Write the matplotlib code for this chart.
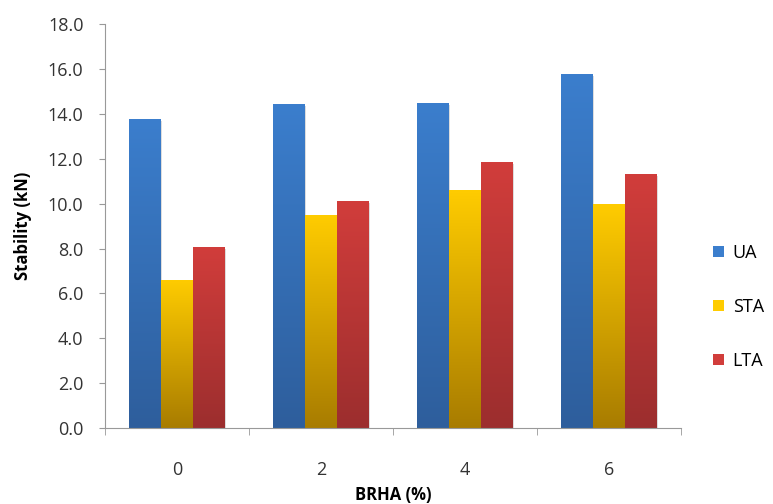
import numpy as np
import matplotlib.pyplot as plt
from matplotlib.colors import LinearSegmentedColormap
from matplotlib.patches import Rectangle

# Datos
categories = ['0', '2', '4', '6']
series_names = ['UA', 'STA', 'LTA']
ua = [13.76, 14.44, 14.5, 15.76]
sta = [6.6, 9.48, 10.6, 9.97]
lta = [8.05, 10.1, 11.85, 11.32]

# colores (arriba, abajo) para el degradado tipo Excel
colors = {
    'UA': ('#3B7ECD', '#2E5E9C'),
    'STA': ('#FFCC00', '#A87C00'),
    'LTA': ('#D13D3B', '#9C2E2E'),
}

plt.rcParams['font.family'] = ['Open Sans', 'DejaVu Sans']

fig = plt.figure(figsize=(7.73, 5.04), dpi=100)
ax = fig.add_axes([0.1358, 0.1508, 0.881 - 0.1358, 0.952 - 0.1508])

x = np.arange(len(categories))
width = 0.22
grad = np.linspace(1, 0, 256).reshape(-1, 1)

for i, (name, vals) in enumerate(zip(series_names, [ua, sta, lta])):
    top, bottom = colors[name]
    cmap = LinearSegmentedColormap.from_list(name, [bottom, top])
    bars = ax.bar(x + (i - 1) * width, vals, width, color=top, label=name,
                  edgecolor='none', zorder=2)
    for b in bars:
        bx, by = b.get_x(), b.get_y()
        bw, bh = b.get_width(), b.get_height()
        # sombra ligera a la derecha
        ax.add_patch(Rectangle((bx + 0.008, by), bw, bh - 0.08, color='#00000022',
                               zorder=1.5, linewidth=0))
        im = ax.imshow(grad, cmap=cmap, aspect='auto', zorder=2.5,
                       extent=[bx, bx + bw, by, by + bh], vmin=0, vmax=1)
        im.set_clip_path(b)

ax.set_xlim(-0.5, len(categories) - 0.5)
ax.set_ylim(0, 18)
yt = np.arange(0, 18.1, 2)
ax.set_yticks(yt)
ax.set_yticklabels(['%.1f' % v for v in yt])
ax.set_xticks(x)
ax.set_xticklabels(categories)
ax.set_xticks(np.arange(-0.5, len(categories), 1), minor=True)
ax.tick_params(axis='x', which='major', length=0, pad=24, labelsize=13, labelcolor='#333333')
ax.tick_params(axis='x', which='minor', length=5, color='#999999', direction='out')
ax.tick_params(axis='y', length=4.5, color='#999999', labelsize=13, labelcolor='#333333', pad=11)

for s in ['top', 'right']:
    ax.spines[s].set_visible(False)
ax.spines['left'].set_color('#999999')
ax.spines['bottom'].set_color('#999999')

ax.set_ylabel('Stability (kN)', fontsize=12, fontweight='bold', labelpad=11)
ax.set_xlabel('BRHA (%)', fontsize=12, fontweight='bold', labelpad=5)

handles = [Rectangle((0, 0), 1, 1, facecolor=colors[n][0], edgecolor='none') for n in series_names]
fig.legend(handles, series_names, loc='center left', bbox_to_anchor=(0.922, 0.391),
           frameon=False, fontsize=13, handlelength=0.6, handleheight=0.6,
           handletextpad=0.5, labelspacing=2.0, borderpad=0, borderaxespad=0)

fig.savefig('out.png', dpi=100)
